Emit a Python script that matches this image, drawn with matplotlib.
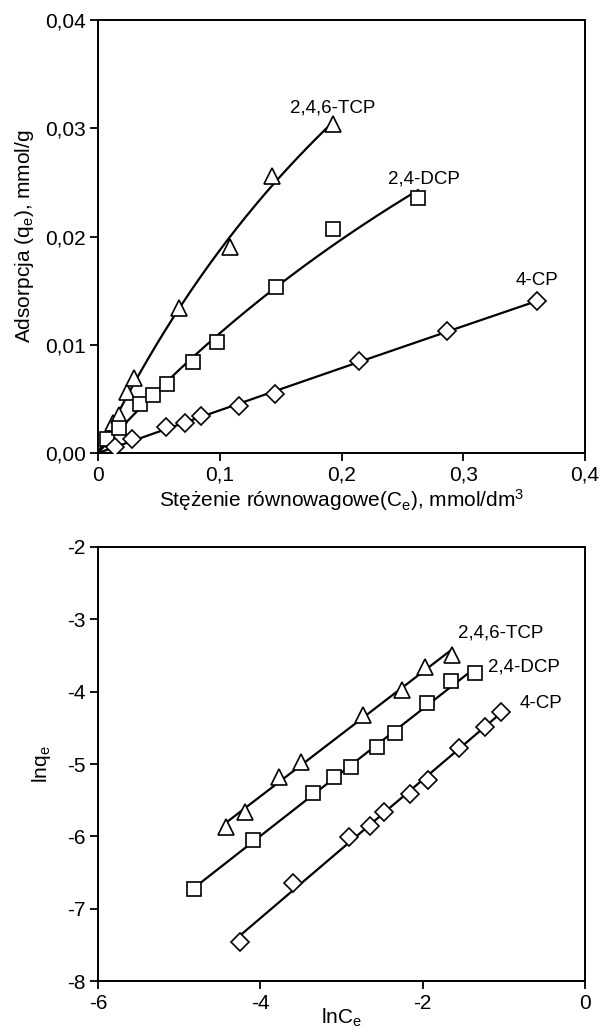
import matplotlib
matplotlib.use("Agg")
import matplotlib.pyplot as plt
import numpy as np

plt.rcParams['font.family'] = ['Liberation Sans', 'DejaVu Sans']
plt.rcParams['mathtext.fontset'] = 'custom'
plt.rcParams['mathtext.rm'] = 'Liberation Sans'
plt.rcParams['mathtext.default'] = 'regular'
plt.rcParams['axes.unicode_minus'] = False

# --- top panel: isotherms, q_e vs C_e ---
tcp_c = [0.0125, 0.0175, 0.0238, 0.0298, 0.0666, 0.1084, 0.1432, 0.1929]
tcp_q = [0.00274, 0.0035, 0.00566, 0.0069, 0.01336, 0.01905, 0.02558, 0.03038]

dcp_c = [0.0074, 0.0175, 0.0347, 0.0448, 0.0566, 0.0779, 0.0975, 0.1461, 0.1932, 0.2629]
dcp_q = [0.00126, 0.00228, 0.0045, 0.00536, 0.00634, 0.00837, 0.01022, 0.0153, 0.02066, 0.02357]

cp_c = [0.0139, 0.0276, 0.0557, 0.0713, 0.0844, 0.1158, 0.1453, 0.2142, 0.2866, 0.3604]
cp_q = [0.00058, 0.00127, 0.00243, 0.00274, 0.00342, 0.00434, 0.00548, 0.00852, 0.01127, 0.01404]

# --- bottom panel: linearised form, ln q_e vs ln C_e ---
tcp_lnc = [-4.423, -4.189, -3.766, -3.503, -2.739, -2.259, -1.971, -1.642]
tcp_lnq = [-5.874, -5.658, -5.174, -4.967, -4.321, -3.975, -3.661, -3.491]

dcp_lnc = [-4.814, -4.087, -3.348, -3.093, -2.887, -2.566, -2.341, -1.943, -1.651, -1.355]
dcp_lnq = [-6.732, -6.05, -5.396, -5.183, -5.044, -4.768, -4.566, -4.159, -3.846, -3.744]

cp_lnc = [-4.251, -3.594, -2.904, -2.645, -2.48, -2.156, -1.931, -1.549, -1.232, -1.039]
cp_lnq = [-7.456, -6.649, -6.004, -5.86, -5.658, -5.414, -5.22, -4.773, -4.491, -4.275]

names = ["2,4,6-TCP", "2,4-DCP", "4-CP"]
markers = ["^", "s", "D"]
msizes = [11.5, 9.5, 9.5]


def langmuir_fit(c, q):
    # least squares q = qm*K*c/(1+K*c); scan K, qm solved linearly
    best = None
    for K in np.linspace(0.05, 60, 6000):
        f = K * c / (1 + K * c)
        qm = np.sum(q * f) / np.sum(f * f)
        sse = np.sum((q - qm * f) ** 2)
        if best is None or sse < best[0]:
            best = (sse, K, qm)
    return best[1], best[2]


fig = plt.figure(figsize=(6.02, 10.28), dpi=100)
ax1 = fig.add_axes([0.1628, 0.5593, 0.8090, 0.4212])
ax2 = fig.add_axes([0.1628, 0.0457, 0.8090, 0.4222])

# top: points + fitted isotherm curve
for c, q, m, ms in zip([tcp_c, dcp_c, cp_c], [tcp_q, dcp_q, cp_q], markers, msizes):
    c = np.array(c)
    q = np.array(q)
    K, qm = langmuir_fit(c, q)
    cc = np.linspace(0, c.max(), 200)
    ax1.plot(cc, qm * K * cc / (1 + K * cc), color="black", lw=1.6, zorder=2)
    ax1.plot(c, q, ls="none", marker=m, ms=ms, mfc="white", mec="black", mew=1.2, zorder=3)

ax1.set_xlim(0, 0.4)
ax1.set_ylim(0, 0.04)
ax1.set_xticks([0, 0.1, 0.2, 0.3, 0.4])
ax1.set_xticklabels(["0", "0,1", "0,2", "0,3", "0,4"])
ax1.set_yticks([0, 0.01, 0.02, 0.03, 0.04])
ax1.set_yticklabels(["0,00", "0,01", "0,02", "0,03", "0,04"])
ax1.set_xlabel("Stężenie równowagowe(C$_e$), mmol/dm$^3$", fontsize=15, labelpad=2)
ax1.set_ylabel("Adsorpcja (q$_e$), mmol/g", fontsize=15, labelpad=6)
ax1.text(0.1929, 0.0311, names[0], ha="center", va="bottom", fontsize=13.5)
ax1.text(0.268, 0.0245, names[1], ha="center", va="bottom", fontsize=13.5)
ax1.text(0.3604, 0.0152, names[2], ha="center", va="bottom", fontsize=13.5)

# bottom: points + regression lines
for x, y, m, ms in zip([tcp_lnc, dcp_lnc, cp_lnc], [tcp_lnq, dcp_lnq, cp_lnq], markers, msizes):
    x = np.array(x)
    y = np.array(y)
    a, b = np.polyfit(x, y, 1)
    xx = np.array([x.min(), x.max()])
    ax2.plot(xx, a * xx + b, color="black", lw=1.6, zorder=2)
    ax2.plot(x, y, ls="none", marker=m, ms=ms, mfc="white", mec="black", mew=1.2, zorder=3)

ax2.set_xlim(-6, 0)
ax2.set_ylim(-8, -2)
ax2.set_xticks([-6, -4, -2, 0])
ax2.set_yticks([-8, -7, -6, -5, -4, -3, -2])
ax2.set_xlabel("lnC$_e$", fontsize=15, labelpad=-4)
ax2.set_ylabel("lnq$_e$", fontsize=15, labelpad=10)
ax2.text(-1.565, -3.19, names[0], ha="left", va="center", fontsize=13.5)
ax2.text(-1.195, -3.66, names[1], ha="left", va="center", fontsize=13.5)
ax2.text(-0.80, -4.16, names[2], ha="left", va="center", fontsize=13.5)

for ax in (ax1, ax2):
    for s in ax.spines.values():
        s.set_linewidth(1.4)
    ax.tick_params(direction="out", length=6, width=1.3, labelsize=15, pad=3)

fig.savefig("out.png", dpi=100)
